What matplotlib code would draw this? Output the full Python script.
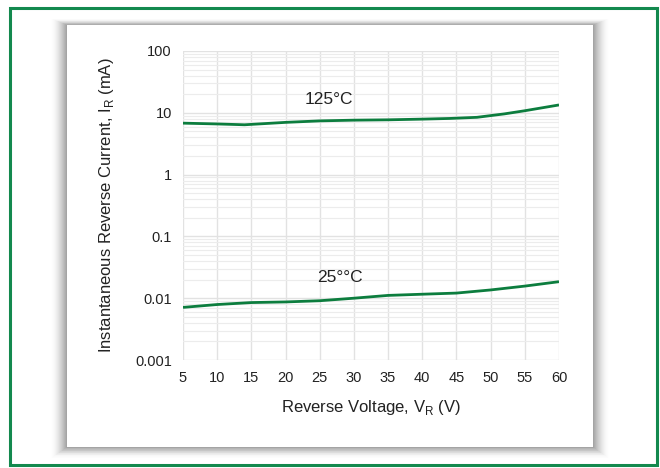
import numpy as np
import matplotlib
matplotlib.use('Agg')
import matplotlib.pyplot as plt
from matplotlib.patches import Rectangle
from matplotlib.ticker import FixedLocator, LogLocator, NullFormatter

plt.rcParams['font.family'] = ['Liberation Sans Narrow', 'Liberation Sans', 'DejaVu Sans']

# reverse voltage (V) and reverse current (mA)
v_125 = [5, 10, 14, 20, 25, 30, 35, 40, 44, 48, 52, 55, 60]
i_125 = [6.8, 6.6, 6.4, 7.0, 7.4, 7.6, 7.7, 7.9, 8.1, 8.45, 9.6, 10.8, 13.4]

v_25 = [5, 10, 15, 20, 25, 30, 35, 40, 45, 50, 55, 60]
i_25 = [0.0071, 0.0079, 0.0085, 0.0087, 0.0091, 0.0100, 0.0111, 0.0116, 0.0121, 0.0136, 0.0157, 0.0185]

x_ticks = list(range(5, 61, 5))
y_ticks = [0.001, 0.01, 0.1, 1, 10, 100]
y_tick_labels = ['0.001', '0.01', '0.1', '1', '10', '100']

GREEN = '#0c7d3e'
BORDER = '#13894e'

W, H = 660, 468
fig = plt.figure(figsize=(W / 100, H / 100), dpi=100)
fig.patch.set_facecolor('white')

def px(x0, y0, x1, y1):
	# pixel box (top-left origin) -> figure fraction rectangle
	return (x0 / W, 1 - y1 / H, (x1 - x0) / W, (y1 - y0) / H)

# outer green frame
x, y, w, h = px(10, 8, 657, 465)
fig.patches.append(Rectangle((x, y), w, h, transform=fig.transFigure,
	facecolor='white', edgecolor=BORDER, linewidth=2.2, zorder=0))

# soft shadow around the card
for k in range(16, 0, -1):
	a = 0.05 * (1 - k / 17.0)
	x, y, w, h = px(67 - k, 25 - k * 0.4, 593 + k, 447 + k * 0.7)
	fig.patches.append(Rectangle((x, y), w, h, transform=fig.transFigure,
		facecolor='black', alpha=a, edgecolor='none', zorder=1))
x, y, w, h = px(67, 25, 593, 447)
fig.patches.append(Rectangle((x, y), w, h, transform=fig.transFigure,
	facecolor='white', edgecolor='none', zorder=2))

ax = fig.add_axes(px(183, 51, 559, 360))
ax.set_zorder(3)
ax.set_facecolor('none')

ax.plot(v_125, i_125, color=GREEN, linewidth=2.0, solid_capstyle='butt', zorder=5)
ax.plot(v_25, i_25, color=GREEN, linewidth=2.0, solid_capstyle='butt', zorder=5)

ax.set_yscale('log')
ax.set_xlim(5, 60)
ax.set_ylim(0.001, 100)
ax.xaxis.set_major_locator(FixedLocator(x_ticks))
ax.set_xticklabels([str(t) for t in x_ticks])
ax.yaxis.set_major_locator(FixedLocator(y_ticks))
ax.set_yticklabels(y_tick_labels)
ax.yaxis.set_minor_locator(LogLocator(base=10, subs=np.arange(2, 10)))
ax.yaxis.set_minor_formatter(NullFormatter())

ax.grid(True, which='major', color='#e2e2e2', linewidth=1.0)
ax.grid(True, which='minor', axis='y', color='#ececec', linewidth=0.8)
ax.set_axisbelow(True)
for s in ax.spines.values():
	s.set_visible(False)
ax.tick_params(which='both', length=0, labelsize=10.5, colors='#222222', pad=8)
ax.tick_params(axis='x', pad=8)

ax.set_xlabel('Reverse Voltage, V$_\\mathregular{R}$ (V)', fontsize=12, color='#222222', labelpad=9)
ax.set_ylabel('Instantaneous Reverse Current, I$_\\mathregular{R}$ (mA)', fontsize=12,
	color='#222222', labelpad=14)

ax.text(26.3, 16.7, '125\u00b0C', fontsize=12.5, color='#222222', ha='center', va='center')
ax.text(28.0, 0.022, '25\u00b0\u00b0C', fontsize=12.5, color='#222222', ha='center', va='center')

fig.savefig('out.png', dpi=100, facecolor='white')
